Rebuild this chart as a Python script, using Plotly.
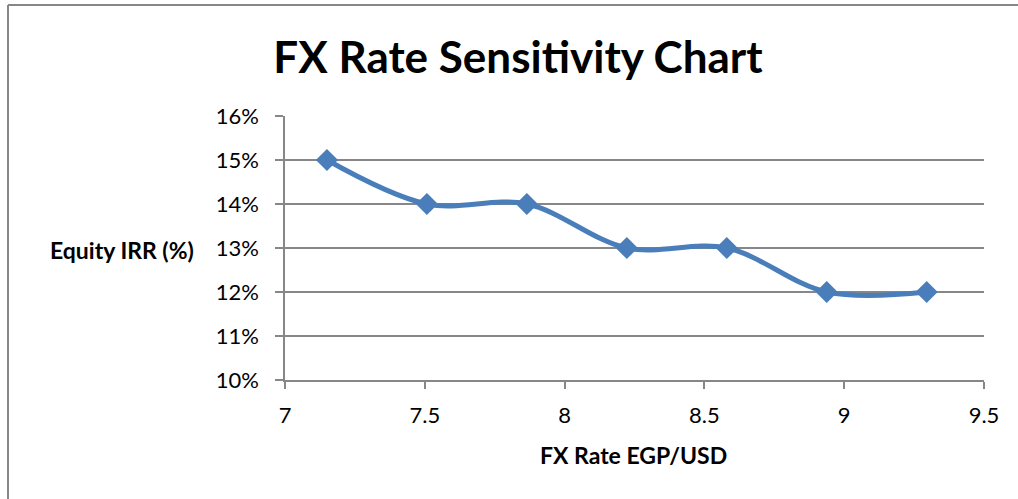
import plotly.graph_objects as go

fx_rate = [7.15, 7.5075, 7.865, 8.2225, 8.58, 8.9375, 9.295]
equity_irr = [0.15, 0.14, 0.14, 0.13, 0.13, 0.12, 0.12]
title_text = "FX Rate Sensitivity Chart"
x_title = "FX Rate EGP/USD"
y_title = "Equity IRR (%)"

W, H = 1018, 499
L, R, T, B = 285, 34, 116, 119
pw, ph = W - L - R, H - T - B

def px_x(p):
    return (p - L) / pw

def px_y(p):
    return 1 - (p - T) / ph

FONT = "Lato"
GRID = "#878787"
BLUE = "#4A7EBB"

fig = go.Figure()
fig.add_trace(go.Scatter(
    x=fx_rate, y=equity_irr, mode="lines+markers",
    line=dict(color=BLUE, width=5, shape="spline", smoothing=1.0),
    marker=dict(symbol="diamond", size=17, color=BLUE),
    showlegend=False, cliponaxis=False,
))

fig.update_layout(
    width=W, height=H,
    margin=dict(l=L, r=R, t=T, b=B),
    paper_bgcolor="white", plot_bgcolor="white",
    font=dict(family=FONT, color="black"),
    title=dict(text="<b>" + title_text + "</b>", x=px_x(518), xref="paper",
               xanchor="center", y=1 - 58 / H, yanchor="middle",
               font=dict(size=44, family=FONT, color="black")),
    xaxis=dict(range=[7, 9.5], dtick=0.5, tick0=7, showgrid=False,
               showline=True, linecolor=GRID, linewidth=1.5,
               ticks="outside", ticklen=7, tickcolor=GRID, tickwidth=1.5,
               ticklabelstandoff=8, tickfont=dict(size=22, family=FONT),
               zeroline=False, fixedrange=True),
    yaxis=dict(range=[0.10, 0.16], dtick=0.01, tick0=0.10, tickformat=".0%",
               showgrid=True, gridcolor=GRID, gridwidth=1.5,
               showline=True, linecolor=GRID, linewidth=1.5,
               ticks="outside", ticklen=8, tickcolor=GRID, tickwidth=1.5,
               ticklabelstandoff=12, tickfont=dict(size=22, family=FONT),
               zeroline=False, fixedrange=True),
)

fig.add_annotation(text="<b>" + x_title + "</b>", xref="paper", yref="paper",
                   x=px_x(633), y=px_y(455), xanchor="center", yanchor="middle",
                   showarrow=False, font=dict(size=23, family=FONT))
fig.add_annotation(text="<b>" + y_title + "</b>", xref="paper", yref="paper",
                   x=px_x(122), y=px_y(250), xanchor="center", yanchor="middle",
                   showarrow=False, font=dict(size=23, family=FONT))

# outer chart frame (partially visible)
fx0, fy0 = px_x(8), px_y(5)
fig.add_shape(type="line", xref="paper", yref="paper", x0=fx0, y0=fy0, x1=fx0, y1=-2,
              line=dict(color=GRID, width=2))
fig.add_shape(type="line", xref="paper", yref="paper", x0=fx0, y0=fy0, x1=2, y1=fy0,
              line=dict(color=GRID, width=2))

fig.write_html("out.html", config={"displayModeBar": False},
               post_script="document.body.style.margin='0px';")
